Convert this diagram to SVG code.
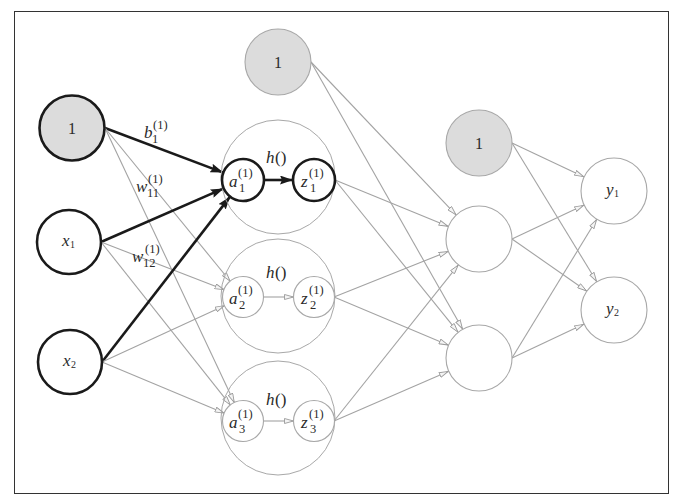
<svg xmlns="http://www.w3.org/2000/svg" width="677" height="502" viewBox="0 0 677 502">
<defs>
<marker id="ag" viewBox="0 0 10 6" refX="10" refY="3" markerWidth="10" markerHeight="6" markerUnits="userSpaceOnUse" orient="auto">
<path d="M0.5,0.5 L9.5,3 L0.5,5.5 Z" fill="#f4f4f4" stroke="#9a9a9a" stroke-width="0.9"/>
</marker>
<marker id="ab" viewBox="0 0 13 9" refX="13" refY="4.5" markerWidth="13" markerHeight="9" markerUnits="userSpaceOnUse" orient="auto">
<path d="M0,0 L13,4.5 L0,9 L2,4.5 Z" fill="#1a1a1a"/>
</marker>
</defs>
<style>
.frame{fill:none;stroke:#333;stroke-width:1}
.g{stroke:#a3a3a3;stroke-width:1.1;fill:none;marker-end:url(#ag)}
.b{stroke:#1a1a1a;stroke-width:2.6;fill:none;marker-end:url(#ab)}
.nb{fill:#fff;stroke:#1a1a1a;stroke-width:2.6}
.nbg{fill:#dcdcdc;stroke:#1a1a1a;stroke-width:2.6}
.ng{fill:#fff;stroke:#a8a8a8;stroke-width:1.1}
.ngg{fill:#dcdcdc;stroke:#a8a8a8;stroke-width:1.1}
.big{fill:none;stroke:#a8a8a8;stroke-width:1}
text{font-family:"Liberation Serif","DejaVu Serif",serif;fill:#2a2a2a}
.m{font-style:italic}
.one{font-size:16px;text-anchor:middle}
.v{font-size:17px}
.s{font-size:12.5px}
.ss{font-size:10px}
</style>
<rect class="frame" x="14.5" y="11.5" width="654" height="482"/>
<g id="connectors">
<line class="b" x1="105" y1="128" x2="223.3" y2="172.6"/>
<line class="g" x1="105" y1="128" x2="230.4" y2="281.5"/>
<line class="g" x1="105" y1="128" x2="234.5" y2="402.9"/>
<line class="b" x1="101" y1="242" x2="223.7" y2="188.4"/>
<line class="g" x1="101" y1="242" x2="224.4" y2="289.8"/>
<line class="g" x1="101" y1="242" x2="230.6" y2="405.3"/>
<line class="b" x1="102" y1="362" x2="230.1" y2="196.6"/>
<line class="g" x1="102" y1="362" x2="224.8" y2="305.4"/>
<line class="g" x1="102" y1="362" x2="224.5" y2="413.3"/>
<line class="b" x1="264" y1="180" x2="293" y2="180"/>
<line class="g" x1="263" y1="297" x2="294" y2="297"/>
<line class="g" x1="263" y1="421" x2="294" y2="421"/>
<line class="g" x1="311" y1="62" x2="456.3" y2="215.1"/>
<line class="g" x1="311" y1="62" x2="462.7" y2="329.3"/>
<line class="g" x1="335" y1="180" x2="448.5" y2="226.5"/>
<line class="g" x1="335" y1="180" x2="458.2" y2="332.4"/>
<line class="g" x1="334" y1="297" x2="448.4" y2="251.3"/>
<line class="g" x1="334" y1="297" x2="448.6" y2="345.2"/>
<line class="g" x1="334" y1="421" x2="458.4" y2="264.8"/>
<line class="g" x1="334" y1="421" x2="448.7" y2="371.2"/>
<line class="g" x1="512" y1="143" x2="584.1" y2="176.9"/>
<line class="g" x1="512" y1="143" x2="596.8" y2="281.8"/>
<line class="g" x1="512" y1="239" x2="584.1" y2="205.1"/>
<line class="g" x1="512" y1="239" x2="586.9" y2="291.2"/>
<line class="g" x1="512" y1="358" x2="596.8" y2="219.2"/>
<line class="g" x1="512" y1="358" x2="584.1" y2="324.1"/>
</g>
<g id="weight-labels">
<text class="m v" x="144" y="138">b</text><text class="s" x="153" y="129">(1)</text><text class="s" x="152" y="143">1</text>
<text class="m v" x="136" y="192">w</text><text class="s" x="148" y="183">(1)</text><text class="s" x="147" y="197">11</text>
<text class="m v" x="132" y="262">w</text><text class="s" x="145" y="253">(1)</text><text class="s" x="143" y="267">12</text>
</g>
<g id="bias1"><circle class="nbg" cx="72" cy="128" r="32.5"/><text class="one" x="72" y="134">1</text></g>
<g id="x1"><circle class="nb" cx="69" cy="242" r="32"/><text class="m v" x="62" y="246">x</text><text class="ss" x="70" y="248">1</text></g>
<g id="x2"><circle class="nb" cx="70" cy="362" r="32"/><text class="m v" x="63" y="366">x</text><text class="ss" x="71" y="368">2</text></g>
<g id="bias2"><circle class="ngg" cx="278" cy="62" r="33"/><text class="one" x="278" y="68">1</text></g>
<g id="hidden1">
<circle class="big" cx="278" cy="177" r="57"/>
<text class="m v" x="266" y="163">h</text><text class="v" x="275" y="163">()</text>
<circle class="nb" cx="243" cy="180" r="21"/>
<text class="m v" x="229" y="187">a</text><text class="s" x="238" y="177">(1)</text><text class="s" x="239" y="192">1</text>
<circle class="nb" cx="314" cy="180" r="21"/>
<text class="m v" x="301" y="187">z</text><text class="s" x="309" y="177">(1)</text><text class="s" x="310" y="192">1</text>
</g>
<g id="hidden2">
<circle class="big" cx="278" cy="296" r="57"/>
<text class="m v" x="266" y="278">h</text><text class="v" x="275" y="278">()</text>
<circle class="ng" cx="243" cy="297" r="20.5"/>
<text class="m v" x="229" y="304">a</text><text class="s" x="238" y="294">(1)</text><text class="s" x="239" y="309">2</text>
<circle class="ng" cx="314" cy="297" r="20.5"/>
<text class="m v" x="301" y="304">z</text><text class="s" x="309" y="294">(1)</text><text class="s" x="310" y="309">2</text>
</g>
<g id="hidden3">
<circle class="big" cx="278" cy="418" r="57"/>
<text class="m v" x="266" y="405">h</text><text class="v" x="275" y="405">()</text>
<circle class="ng" cx="243" cy="421" r="20.5"/>
<text class="m v" x="229" y="428">a</text><text class="s" x="238" y="418">(1)</text><text class="s" x="239" y="433">3</text>
<circle class="ng" cx="314" cy="421" r="20.5"/>
<text class="m v" x="301" y="428">z</text><text class="s" x="309" y="418">(1)</text><text class="s" x="310" y="433">3</text>
</g>
<g id="bias3"><circle class="ngg" cx="479" cy="143" r="33"/><text class="one" x="479" y="149">1</text></g>
<g id="l2n1"><circle class="ng" cx="479" cy="239" r="33"/></g>
<g id="l2n2"><circle class="ng" cx="479" cy="358" r="33"/></g>
<g id="y1"><circle class="ng" cx="614" cy="191" r="33"/><text class="m v" x="606" y="195">y</text><text class="ss" x="614" y="197">1</text></g>
<g id="y2"><circle class="ng" cx="614" cy="310" r="33"/><text class="m v" x="606" y="314">y</text><text class="ss" x="614" y="316">2</text></g>
</svg>
